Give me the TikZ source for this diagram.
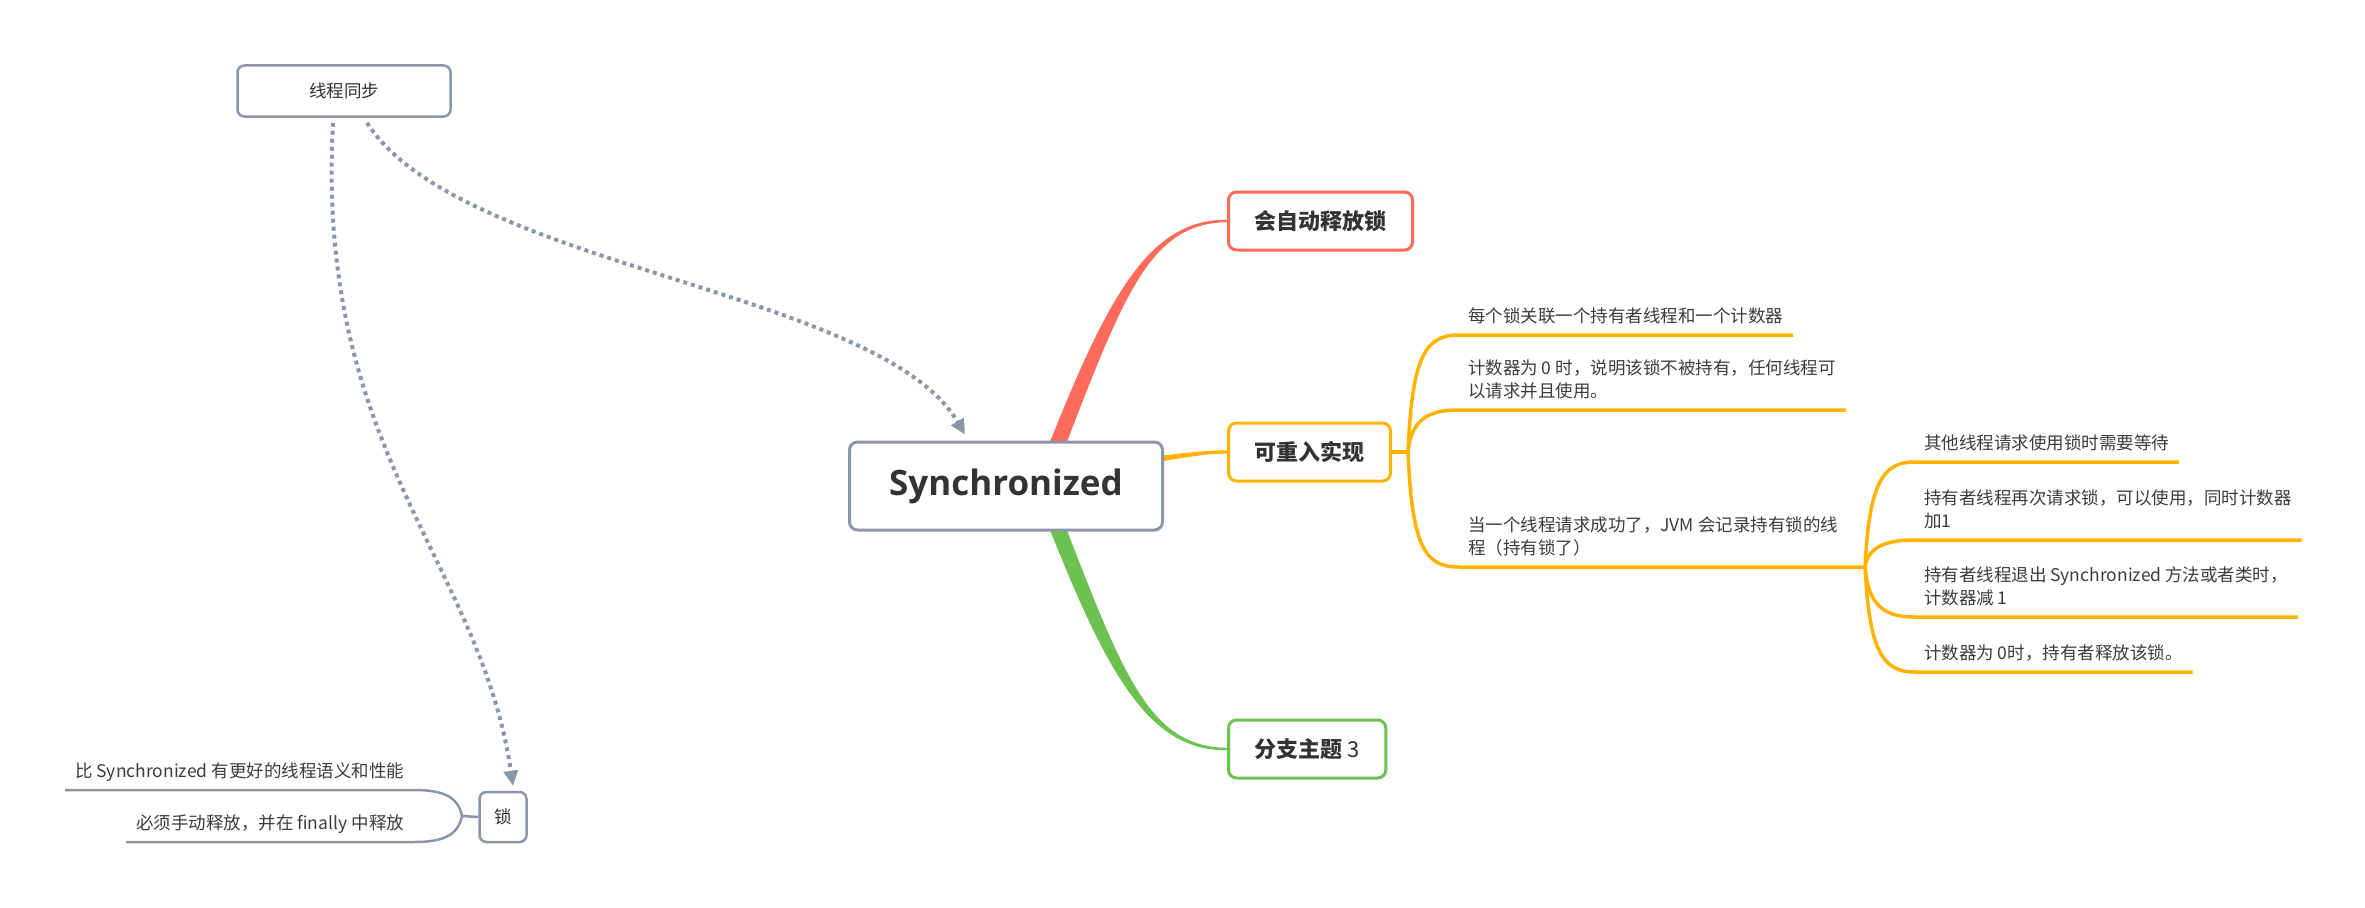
\documentclass[tikz,border=0pt]{standalone}
\usepackage{fontspec}
\setmainfont{Noto Sans CJK SC}
\newfontfamily\rootfont{Open Sans}
\usetikzlibrary{positioning, calc, arrows.meta, backgrounds}
\definecolor{mapgray}{HTML}{8B96A8}
\definecolor{mapred}{HTML}{FF6B5B}
\definecolor{maporange}{HTML}{FFB300}
\definecolor{mapgreen}{HTML}{6CC251}
\definecolor{maptext}{HTML}{333333}
\definecolor{leaftext}{HTML}{3C3C3C}

\begin{document}
\begin{tikzpicture}[x=1pt, y=-1pt,
    rootbox/.style={rectangle, rounded corners=8pt, draw=mapgray, line width=3pt, fill=white, minimum width=313pt, minimum height=88pt, font=\rootfont\fontsize{35}{42}\selectfont\bfseries, text=maptext},
    topic/.style={rectangle, rounded corners=8pt, line width=3pt, fill=white, minimum height=58pt, inner xsep=26pt, font=\fontsize{22}{26}\selectfont\bfseries, text=maptext, anchor=west},
    floatbox/.style={rectangle, rounded corners=7pt, draw=mapgray, line width=2.5pt, fill=white, font=\fontsize{17.5}{22}\selectfont, text=maptext},
    leaf/.style={inner xsep=10pt, inner ysep=9pt, text depth=4pt, outer sep=0pt, font=\fontsize{17.5}{23}\selectfont, text=leaftext},
    orangeline/.style={draw=maporange, line width=3.5pt},
    grayline/.style={draw=mapgray, line width=2.5pt},
    relation/.style={draw=mapgray, line width=4pt, dash pattern=on 4pt off 4pt, -{Triangle[length=15pt, width=14pt]}}
]
    \useasboundingbox (0,0) rectangle (2365,907);

    % Central topic and main branches
    \node[rootbox] (root) at (1006,486) {Synchronized};
    \node[topic, draw=mapred] (autorel) at (1227,221) {会自动释放锁};
    \node[topic, draw=maporange] (reentry) at (1227,452) {可重入实现};
    \node[topic, draw=mapgreen] (branch3) at (1227,749) {分支主题 {\mdseries 3}};

    % Floating topics
    \node[floatbox, minimum width=213pt, minimum height=51pt] (sync) at (344,91) {线程同步};
    \node[floatbox, minimum width=47pt, minimum height=50pt] (lock) at (503,817) {锁};

    % Leaves of reentry
    \node[leaf, anchor=south west, align=left] (countA) at (1458,335) {每个锁关联一个持有者线程和一个计数器};
    \node[leaf, anchor=south west, align=left] (countB) at (1458,410) {计数器为 0 时，说明该锁不被持有，任何线程可\\以请求并且使用。};
    \node[leaf, anchor=south west, align=left] (countC) at (1458,567) {当一个线程请求成功了，JVM 会记录持有锁的线\\程（持有锁了）};

    % Leaves of the held lock
    \node[leaf, anchor=south west, align=left] (holdA) at (1914,462) {其他线程请求使用锁时需要等待};
    \node[leaf, anchor=south west, align=left] (holdB) at (1914,540) {持有者线程再次请求锁，可以使用，同时计数器\\加1};
    \node[leaf, anchor=south west, align=left] (holdC) at (1914,617) {持有者线程退出 Synchronized 方法或者类时，\\计数器减 1};
    \node[leaf, anchor=south west, align=left] (holdD) at (1914,672) {计数器为 0时，持有者释放该锁。};

    % Leaves of lock
    \node[leaf, anchor=south east, align=right] (lockA) at (414,790) {比 Synchronized 有更好的线程语义和性能};
    \node[leaf, anchor=south east, align=right] (lockB) at (414,842) {必须手动释放，并在 finally 中释放};

    \coordinate (forkR) at (1408,452);
    \coordinate (forkH) at ($(countC.south east)+(17,0)$);
    \coordinate (forkL) at (462,816);

    \begin{scope}[on background layer]
        % Tapered main branches
        \fill[mapred] ($(root.center)+(33,-16)$) .. controls +(66,-170) and +(-80,-1) .. ($(autorel.west)+(0,-1.2)$)
            -- ($(autorel.west)+(0,1.2)$) .. controls +(-80,1) and +(66,-170) .. ($(root.center)+(50,-16)$) -- cycle;
        \fill[maporange] ($(root.center)+(94,-24)$) .. controls +(60,-5) and +(-35,0) .. ($(reentry.west)+(0,-1.6)$)
            -- ($(reentry.west)+(0,1.6)$) .. controls +(-35,0) and +(60,-5) .. ($(root.center)+(94,-17)$) -- cycle;
        \fill[mapgreen] ($(root.center)+(33,16)$) .. controls +(66,170) and +(-80,1) .. ($(branch3.west)+(0,1.2)$)
            -- ($(branch3.west)+(0,-1.2)$) .. controls +(-80,-1) and +(66,170) .. ($(root.center)+(50,16)$) -- cycle;
    \end{scope}

    % Sub branches
    \draw[orangeline] (reentry.east) -- (forkR);
    \draw[orangeline] (forkR) .. controls +(4,-90) and +(-35,0) .. (countA.south west) -- (countA.south east);
    \draw[orangeline] (forkR) .. controls +(3,-32) and +(-30,0) .. (countB.south west) -- (countB.south east);
    \draw[orangeline] (forkR) .. controls +(4,90) and +(-35,0) .. (countC.south west) -- (forkH);

    \draw[orangeline] (forkH) .. controls +(4,-82) and +(-32,0) .. (holdA.south west) -- (holdA.south east);
    \draw[orangeline] (forkH) .. controls +(3,-20) and +(-28,0) .. (holdB.south west) -- (holdB.south east);
    \draw[orangeline] (forkH) .. controls +(3,38) and +(-30,0) .. (holdC.south west) -- (holdC.south east);
    \draw[orangeline] (forkH) .. controls +(4,82) and +(-32,0) .. (holdD.south west) -- (holdD.south east);

    \draw[grayline] (lock.west) -- (forkL);
    \draw[grayline] (forkL) .. controls +(-4,-20) and +(28,0) .. (lockA.south east) -- (lockA.south west);
    \draw[grayline] (forkL) .. controls +(-4,20) and +(28,0) .. (lockB.south east) -- (lockB.south west);

    % Relationships
    \draw[relation] ($(sync.south)+(23,5)$) .. controls +(93,145) and +(-85,-145) .. ($(root.north)+(-41,-6)$);
    \draw[relation] ($(sync.south)+(-11,5)$) .. controls +(-18,327) and +(-33,-225) .. ($(lock.north)+(10,-5)$);

\end{tikzpicture}
\end{document}
